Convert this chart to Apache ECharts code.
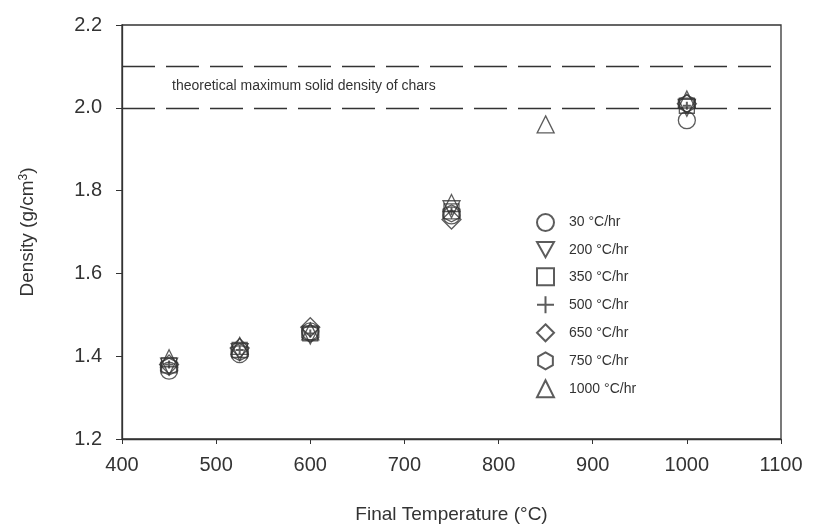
<!DOCTYPE html>
<html>
<head>
<meta charset="utf-8">
<script src="https://cdn.jsdelivr.net/npm/echarts@6/dist/echarts.min.js"></script>
<style>
  html, body { margin: 0; padding: 0; background: #fff; }
  #main { width: 817px; height: 529px; }
</style>
</head>
<body>
<div id="main"></div>
<script>
// data
var temps = [450, 525, 600, 750, 850, 1000];
var rates = ['30 °C/hr', '200 °C/hr', '350 °C/hr', '500 °C/hr', '650 °C/hr', '750 °C/hr', '1000 °C/hr'];
var d30 = [1.365, 1.405, 1.46, 1.74, null, 1.97];
var d200 = [1.375, 1.41, 1.45, 1.755, null, 2.0];
var d350 = [1.378, 1.415, 1.455, 1.75, null, 2.005];
var d500 = [1.38, 1.415, 1.455, 1.75, null, 2.005];
var d650 = [1.38, 1.42, 1.47, 1.73, null, 2.01];
var d750 = [1.375, 1.41, 1.455, 1.745, null, 2.01];
var d1000 = [1.395, 1.425, 1.46, 1.77, 1.96, 2.02];
var limitLines = [2.1, 2.0];
var yTicks = [1.2, 1.4, 1.6, 1.8, 2.0, 2.2];

var myChart = echarts.init(document.getElementById('main'));

var FONT = 'Liberation Sans';
var INK = '#333';

function pairs(vals) {
  var out = [];
  for (var i = 0; i < temps.length; i++) {
    if (vals[i] != null) out.push([temps[i], vals[i]]);
  }
  return out;
}

var hexagon = 'path://M5,0L9.33,2.5L9.33,7.5L5,10L0.67,7.5L0.67,2.5Z';
var downTri = 'path://M0,0L10,0L5,9Z';
var plus = 'path://M0,5L10,5M5,0L5,10';

var symbols = [
  { symbol: 'circle' },
  { symbol: downTri },
  { symbol: 'rect', size: 15 },
  { symbol: plus, size: 8, width: 2 },
  { symbol: 'diamond', size: 19 },
  { symbol: hexagon, size: 17 },
  { symbol: 'triangle', size: 17 }
];
var allData = [d30, d200, d350, d500, d650, d750, d1000];

var series = rates.map(function (name, i) {
  var s = symbols[i];
  return {
    name: name,
    type: 'scatter',
    data: pairs(allData[i]),
    symbol: s.symbol,
    symbolSize: s.size || 17,
    itemStyle: { color: 'rgba(0,0,0,0)', borderColor: INK, borderWidth: s.width || 1.3 },
    emphasis: { disabled: true },
    z: 3
  };
});

// dashed reference lines
series.push({
  type: 'line',
  data: [],
  silent: true,
  markLine: {
    symbol: 'none',
    silent: true,
    label: { show: false },
    lineStyle: { color: INK, type: [33, 11], width: 1.3 },
    data: limitLines.map(function (v) { return { yAxis: v }; })
  }
});

option = {
  animation: false,
  backgroundColor: '#fff',
  textStyle: { fontFamily: FONT },
  grid: {
    left: 122, right: 36, top: 25, bottom: 89,
    show: true, borderColor: INK, borderWidth: 1.3
  },
  legend: {
    orient: 'vertical',
    left: 531,
    top: 208,
    itemWidth: 17,
    itemHeight: 17,
    itemGap: 9,
    data: rates,
    textStyle: { fontFamily: FONT, fontSize: 14, color: INK, padding: [0, 0, 0, 10] }
  },
  xAxis: {
    type: 'value',
    min: 400,
    max: 1100,
    interval: 100,
    name: 'Final Temperature (°C)',
    nameLocation: 'middle',
    nameGap: 66,
    nameTextStyle: { fontFamily: FONT, fontSize: 19, color: INK },
    axisLine: { lineStyle: { color: INK, width: 1.3 } },
    axisTick: { length: 5, lineStyle: { color: INK } },
    axisLabel: { fontFamily: FONT, fontSize: 20, color: INK, margin: 16, formatter: function (v) { return String(v); } },
    splitLine: { show: false }
  },
  yAxis: {
    type: 'value',
    min: 1.2,
    max: 2.2,
    interval: 0.2,
    name: 'Density (g/cm{sup|3})',
    nameLocation: 'middle',
    nameGap: 84,
    nameTextStyle: {
      fontFamily: FONT, fontSize: 19, color: INK,
      rich: { sup: { fontFamily: FONT, fontSize: 12, color: INK, verticalAlign: 'top', padding: [0, 0, 8, 0] } }
    },
    axisLine: { lineStyle: { color: INK, width: 1.3 } },
    axisTick: { length: 6, lineStyle: { color: INK } },
    axisLabel: {
      fontFamily: FONT, fontSize: 20, color: INK, margin: 20,
      formatter: function (v) { return yTicks.indexOf(+v.toFixed(1)) >= 0 ? v.toFixed(1) : ''; }
    },
    splitLine: { show: false }
  },
  graphic: [{
    type: 'text',
    left: 172,
    top: 79,
    style: { text: 'theoretical maximum solid density of chars', font: '14px "Liberation Sans"', fill: INK }
  }],
  series: series
};

myChart.setOption(option);
</script>
</body>
</html>
